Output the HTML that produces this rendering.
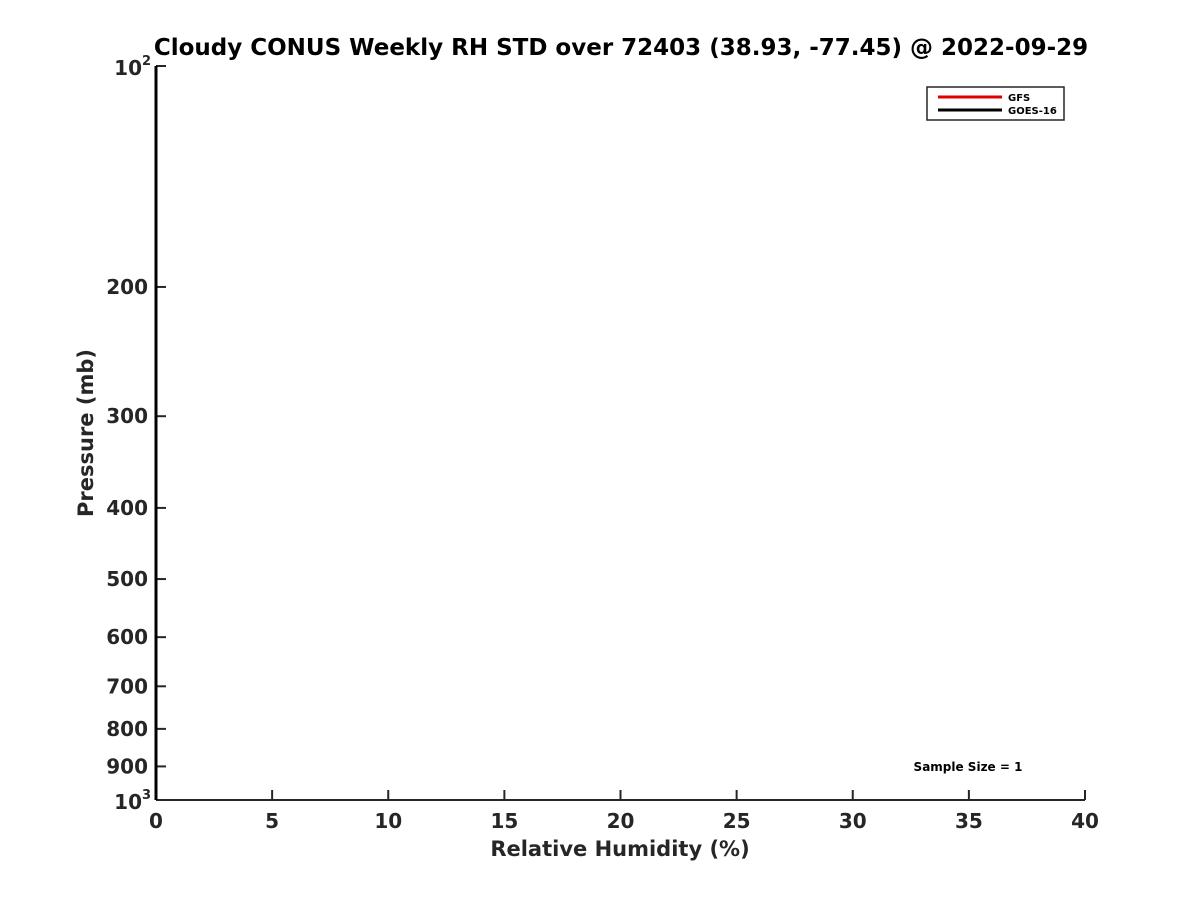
<!DOCTYPE html>
<html><head><meta charset="utf-8"><style>
body{margin:0;background:#fff;}
svg text{font-family:"DejaVu Sans","Liberation Sans",sans-serif;font-weight:bold;fill:#262626;}
</style></head><body>
<svg id="chart" width="1200" height="900" xmlns="http://www.w3.org/2000/svg">
<rect width="1200" height="900" fill="#fff"/>
<text x="621" y="55" text-anchor="middle" font-size="23" style="fill:#000">Cloudy CONUS Weekly RH STD over 72403 (38.93, -77.45) @ 2022-09-29</text>
<g id="axes"></g>
<g id="series"></g>
<text x="620" y="856" text-anchor="middle" font-size="21">Relative Humidity (%)</text>
<text transform="translate(93,433) rotate(-90)" text-anchor="middle" font-size="21">Pressure (mb)</text>
<g>
<rect x="927" y="87" width="137" height="33" fill="#fff" stroke="#262626" stroke-width="1.5"/>
<line x1="938" y1="97" x2="1002" y2="97" stroke="#e00000" stroke-width="3"/>
<text x="1008" y="101" font-size="10" style="fill:#000">GFS</text>
<line x1="938" y1="110" x2="1002" y2="110" stroke="#000" stroke-width="3"/>
<text x="1008" y="114" font-size="10" style="fill:#000">GOES-16</text>
</g>
<text x="968" y="771" text-anchor="middle" font-size="12" style="fill:#000">Sample Size = 1</text>
</svg>
<script>
const xTicks=[0,5,10,15,20,25,30,35,40];
const yTicks=[200,300,400,500,600,700,800,900];
const pressure=[100,150,200,300,400,500,600,700,800,900,1000];
const gfsRH=[0,0,0,0,0,0,0,0,0,0,0];
const goesRH=[0,0,0,0,0,0,0,0,0,0,0];
const X0=156,X1=1085,Y0=66,Y1=800;
const sx=v=>X0+(v-0)/(40-0)*(X1-X0);
const sy=p=>Y0+(Math.log10(p)-2)/(3-2)*(Y1-Y0);
const NS="http://www.w3.org/2000/svg";
function mk(t,a,p){const e=document.createElementNS(NS,t);for(const k in a)e.setAttribute(k,a[k]);p.appendChild(e);return e;}
const ax=document.getElementById('axes');
const xl=mk('line',{x1:X0,y1:Y1,x2:X1,y2:Y1,stroke:'#262626','stroke-width':2},ax);


const yl=mk('line',{x1:X0,y1:Y0,x2:X0,y2:Y1,stroke:'#262626','stroke-width':2},ax);


xTicks.forEach(v=>{
 const t=mk('line',{x1:sx(v),y1:Y1,x2:sx(v),y2:Y1-10,stroke:'#262626','stroke-width':2},ax);
 
 
 const l=mk('text',{x:sx(v),y:Y1+28,'text-anchor':'middle','font-size':20},ax);
 
 
 l.textContent=v;
});
[100,...yTicks,1000].forEach(v=>{
 const t=mk('line',{x1:X0,y1:sy(v),x2:X0+10,y2:sy(v),stroke:'#262626','stroke-width':2},ax);
 
 
});
yTicks.forEach(v=>{
 const l=mk('text',{x:X0-8,y:sy(v)+7,'text-anchor':'end','font-size':20},ax);
 
 
 l.textContent=v;
});
[[100,'2'],[1000,'3']].forEach(([v,e])=>{
 const l=mk('text',{x:X0-14,y:sy(v)+9,'text-anchor':'end','font-size':20},ax);
 
 
 l.textContent='10';
 const s=mk('text',{x:X0-14,y:sy(v)-1,'font-size':13},ax);
 
 
 s.textContent=e;
});
const sg=document.getElementById('series');
const pts=a=>a.map((v,i)=>sx(v)+','+sy(pressure[i])).join(' ');
const g=mk('polyline',{points:pts(gfsRH),fill:'none',stroke:'#e00000','stroke-width':3},sg);


const b=mk('polyline',{points:pts(goesRH),fill:'none',stroke:'#000','stroke-width':3},sg);


</script>
</body></html>
